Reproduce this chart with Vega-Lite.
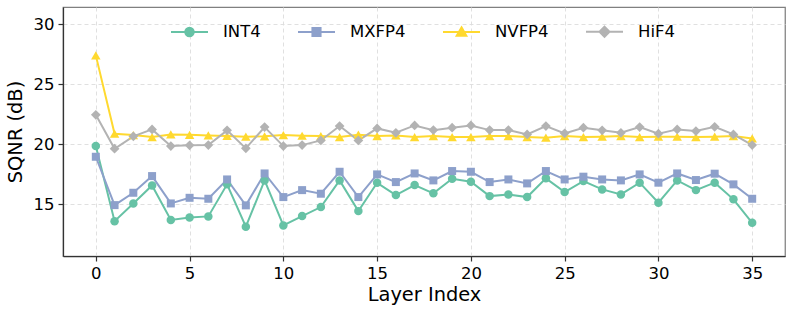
{
  "$schema": "https://vega.github.io/schema/vega-lite/v6.json",
  "width": 722,
  "height": 249,
  "autosize": {"type": "none"},
  "padding": {"left": 63, "top": 7, "right": 8, "bottom": 58},
  "background": "white",
  "config": {
    "font": "DejaVu Sans",
    "view": {"stroke": "#808080", "strokeWidth": 1.25},
    "axis": {
      "labelFont": "DejaVu Sans",
      "titleFont": "DejaVu Sans",
      "labelFontSize": 16.5,
      "titleFontSize": 19.4,
      "labelColor": "black",
      "titleColor": "black",
      "titleFontWeight": "normal",
      "tickSize": 5,
      "tickColor": "#333333",
      "tickWidth": 1.2,
      "labelPadding": 4,
      "domainColor": "#333333",
      "domainWidth": 1.25,
      "gridColor": "#dddddd",
      "gridDash": [4, 3],
      "gridWidth": 0.9
    },
    "legend": {
      "labelFont": "DejaVu Sans",
      "labelFontSize": 16.5,
      "labelColor": "black"
    }
  },
  "data": {
    "values": [
      {"layer": 0, "method": "INT4", "sqnr": 19.86},
      {"layer": 1, "method": "INT4", "sqnr": 13.6},
      {"layer": 2, "method": "INT4", "sqnr": 15.08},
      {"layer": 3, "method": "INT4", "sqnr": 16.58},
      {"layer": 4, "method": "INT4", "sqnr": 13.7},
      {"layer": 5, "method": "INT4", "sqnr": 13.9},
      {"layer": 6, "method": "INT4", "sqnr": 14.0},
      {"layer": 7, "method": "INT4", "sqnr": 16.67},
      {"layer": 8, "method": "INT4", "sqnr": 13.14},
      {"layer": 9, "method": "INT4", "sqnr": 17.0},
      {"layer": 10, "method": "INT4", "sqnr": 13.25},
      {"layer": 11, "method": "INT4", "sqnr": 14.03},
      {"layer": 12, "method": "INT4", "sqnr": 14.78},
      {"layer": 13, "method": "INT4", "sqnr": 17.0},
      {"layer": 14, "method": "INT4", "sqnr": 14.44},
      {"layer": 15, "method": "INT4", "sqnr": 16.8},
      {"layer": 16, "method": "INT4", "sqnr": 15.78},
      {"layer": 17, "method": "INT4", "sqnr": 16.61},
      {"layer": 18, "method": "INT4", "sqnr": 15.92},
      {"layer": 19, "method": "INT4", "sqnr": 17.14},
      {"layer": 20, "method": "INT4", "sqnr": 16.89},
      {"layer": 21, "method": "INT4", "sqnr": 15.69},
      {"layer": 22, "method": "INT4", "sqnr": 15.83},
      {"layer": 23, "method": "INT4", "sqnr": 15.61},
      {"layer": 24, "method": "INT4", "sqnr": 17.17},
      {"layer": 25, "method": "INT4", "sqnr": 16.03},
      {"layer": 26, "method": "INT4", "sqnr": 16.94},
      {"layer": 27, "method": "INT4", "sqnr": 16.25},
      {"layer": 28, "method": "INT4", "sqnr": 15.83},
      {"layer": 29, "method": "INT4", "sqnr": 16.81},
      {"layer": 30, "method": "INT4", "sqnr": 15.14},
      {"layer": 31, "method": "INT4", "sqnr": 17.0},
      {"layer": 32, "method": "INT4", "sqnr": 16.19},
      {"layer": 33, "method": "INT4", "sqnr": 16.81},
      {"layer": 34, "method": "INT4", "sqnr": 15.42},
      {"layer": 35, "method": "INT4", "sqnr": 13.47},
      {"layer": 0, "method": "MXFP4", "sqnr": 18.97},
      {"layer": 1, "method": "MXFP4", "sqnr": 14.94},
      {"layer": 2, "method": "MXFP4", "sqnr": 15.97},
      {"layer": 3, "method": "MXFP4", "sqnr": 17.36},
      {"layer": 4, "method": "MXFP4", "sqnr": 15.08},
      {"layer": 5, "method": "MXFP4", "sqnr": 15.55},
      {"layer": 6, "method": "MXFP4", "sqnr": 15.47},
      {"layer": 7, "method": "MXFP4", "sqnr": 17.08},
      {"layer": 8, "method": "MXFP4", "sqnr": 14.92},
      {"layer": 9, "method": "MXFP4", "sqnr": 17.58},
      {"layer": 10, "method": "MXFP4", "sqnr": 15.61},
      {"layer": 11, "method": "MXFP4", "sqnr": 16.19},
      {"layer": 12, "method": "MXFP4", "sqnr": 15.89},
      {"layer": 13, "method": "MXFP4", "sqnr": 17.72},
      {"layer": 14, "method": "MXFP4", "sqnr": 15.61},
      {"layer": 15, "method": "MXFP4", "sqnr": 17.5},
      {"layer": 16, "method": "MXFP4", "sqnr": 16.86},
      {"layer": 17, "method": "MXFP4", "sqnr": 17.58},
      {"layer": 18, "method": "MXFP4", "sqnr": 17.0},
      {"layer": 19, "method": "MXFP4", "sqnr": 17.78},
      {"layer": 20, "method": "MXFP4", "sqnr": 17.72},
      {"layer": 21, "method": "MXFP4", "sqnr": 16.86},
      {"layer": 22, "method": "MXFP4", "sqnr": 17.08},
      {"layer": 23, "method": "MXFP4", "sqnr": 16.75},
      {"layer": 24, "method": "MXFP4", "sqnr": 17.78},
      {"layer": 25, "method": "MXFP4", "sqnr": 17.08},
      {"layer": 26, "method": "MXFP4", "sqnr": 17.31},
      {"layer": 27, "method": "MXFP4", "sqnr": 17.08},
      {"layer": 28, "method": "MXFP4", "sqnr": 17.0},
      {"layer": 29, "method": "MXFP4", "sqnr": 17.5},
      {"layer": 30, "method": "MXFP4", "sqnr": 16.81},
      {"layer": 31, "method": "MXFP4", "sqnr": 17.58},
      {"layer": 32, "method": "MXFP4", "sqnr": 17.03},
      {"layer": 33, "method": "MXFP4", "sqnr": 17.56},
      {"layer": 34, "method": "MXFP4", "sqnr": 16.67},
      {"layer": 35, "method": "MXFP4", "sqnr": 15.47},
      {"layer": 0, "method": "NVFP4", "sqnr": 27.42},
      {"layer": 1, "method": "NVFP4", "sqnr": 20.89},
      {"layer": 2, "method": "NVFP4", "sqnr": 20.78},
      {"layer": 3, "method": "NVFP4", "sqnr": 20.61},
      {"layer": 4, "method": "NVFP4", "sqnr": 20.83},
      {"layer": 5, "method": "NVFP4", "sqnr": 20.8},
      {"layer": 6, "method": "NVFP4", "sqnr": 20.75},
      {"layer": 7, "method": "NVFP4", "sqnr": 20.7},
      {"layer": 8, "method": "NVFP4", "sqnr": 20.64},
      {"layer": 9, "method": "NVFP4", "sqnr": 20.67},
      {"layer": 10, "method": "NVFP4", "sqnr": 20.78},
      {"layer": 11, "method": "NVFP4", "sqnr": 20.72},
      {"layer": 12, "method": "NVFP4", "sqnr": 20.69},
      {"layer": 13, "method": "NVFP4", "sqnr": 20.61},
      {"layer": 14, "method": "NVFP4", "sqnr": 20.81},
      {"layer": 15, "method": "NVFP4", "sqnr": 20.69},
      {"layer": 16, "method": "NVFP4", "sqnr": 20.75},
      {"layer": 17, "method": "NVFP4", "sqnr": 20.61},
      {"layer": 18, "method": "NVFP4", "sqnr": 20.69},
      {"layer": 19, "method": "NVFP4", "sqnr": 20.61},
      {"layer": 20, "method": "NVFP4", "sqnr": 20.61},
      {"layer": 21, "method": "NVFP4", "sqnr": 20.69},
      {"layer": 22, "method": "NVFP4", "sqnr": 20.69},
      {"layer": 23, "method": "NVFP4", "sqnr": 20.61},
      {"layer": 24, "method": "NVFP4", "sqnr": 20.56},
      {"layer": 25, "method": "NVFP4", "sqnr": 20.69},
      {"layer": 26, "method": "NVFP4", "sqnr": 20.61},
      {"layer": 27, "method": "NVFP4", "sqnr": 20.64},
      {"layer": 28, "method": "NVFP4", "sqnr": 20.69},
      {"layer": 29, "method": "NVFP4", "sqnr": 20.61},
      {"layer": 30, "method": "NVFP4", "sqnr": 20.64},
      {"layer": 31, "method": "NVFP4", "sqnr": 20.64},
      {"layer": 32, "method": "NVFP4", "sqnr": 20.61},
      {"layer": 33, "method": "NVFP4", "sqnr": 20.64},
      {"layer": 34, "method": "NVFP4", "sqnr": 20.69},
      {"layer": 35, "method": "NVFP4", "sqnr": 20.5},
      {"layer": 0, "method": "HiF4", "sqnr": 22.47},
      {"layer": 1, "method": "HiF4", "sqnr": 19.64},
      {"layer": 2, "method": "HiF4", "sqnr": 20.67},
      {"layer": 3, "method": "HiF4", "sqnr": 21.25},
      {"layer": 4, "method": "HiF4", "sqnr": 19.86},
      {"layer": 5, "method": "HiF4", "sqnr": 19.92},
      {"layer": 6, "method": "HiF4", "sqnr": 19.94},
      {"layer": 7, "method": "HiF4", "sqnr": 21.17},
      {"layer": 8, "method": "HiF4", "sqnr": 19.67},
      {"layer": 9, "method": "HiF4", "sqnr": 21.44},
      {"layer": 10, "method": "HiF4", "sqnr": 19.86},
      {"layer": 11, "method": "HiF4", "sqnr": 19.94},
      {"layer": 12, "method": "HiF4", "sqnr": 20.33},
      {"layer": 13, "method": "HiF4", "sqnr": 21.53},
      {"layer": 14, "method": "HiF4", "sqnr": 20.33},
      {"layer": 15, "method": "HiF4", "sqnr": 21.33},
      {"layer": 16, "method": "HiF4", "sqnr": 20.97},
      {"layer": 17, "method": "HiF4", "sqnr": 21.58},
      {"layer": 18, "method": "HiF4", "sqnr": 21.19},
      {"layer": 19, "method": "HiF4", "sqnr": 21.39},
      {"layer": 20, "method": "HiF4", "sqnr": 21.58},
      {"layer": 21, "method": "HiF4", "sqnr": 21.19},
      {"layer": 22, "method": "HiF4", "sqnr": 21.19},
      {"layer": 23, "method": "HiF4", "sqnr": 20.83},
      {"layer": 24, "method": "HiF4", "sqnr": 21.53},
      {"layer": 25, "method": "HiF4", "sqnr": 20.92},
      {"layer": 26, "method": "HiF4", "sqnr": 21.39},
      {"layer": 27, "method": "HiF4", "sqnr": 21.17},
      {"layer": 28, "method": "HiF4", "sqnr": 20.97},
      {"layer": 29, "method": "HiF4", "sqnr": 21.44},
      {"layer": 30, "method": "HiF4", "sqnr": 20.89},
      {"layer": 31, "method": "HiF4", "sqnr": 21.25},
      {"layer": 32, "method": "HiF4", "sqnr": 21.11},
      {"layer": 33, "method": "HiF4", "sqnr": 21.47},
      {"layer": 34, "method": "HiF4", "sqnr": 20.83},
      {"layer": 35, "method": "HiF4", "sqnr": 19.94}
    ]
  },
  "encoding": {
    "x": {
      "field": "layer",
      "type": "quantitative",
      "title": "Layer Index",
      "scale": {"domain": [-1.75, 36.75], "nice": false, "zero": false},
      "axis": {"values": [0, 5, 10, 15, 20, 25, 30, 35], "titlePadding": 4, "labelFlush": false}
    },
    "y": {
      "field": "sqnr",
      "type": "quantitative",
      "title": "SQNR (dB)",
      "scale": {"domain": [10.7, 31.45], "nice": false, "zero": false},
      "axis": {"values": [15, 20, 25, 30], "titlePadding": 8, "labelFlush": false}
    },
    "color": {
      "field": "method",
      "type": "nominal",
      "scale": {
        "domain": ["INT4", "MXFP4", "NVFP4", "HiF4"],
        "range": ["#66c2a5", "#8da0cb", "#ffd92f", "#b3b3b3"]
      },
      "legend": {
        "title": null,
        "orient": "none",
        "direction": "horizontal",
        "legendX": 107,
        "legendY": 5,
        "symbolSize": 1369,
        "symbolStrokeWidth": 2,
        "labelOffset": 14,
        "columnPadding": 33,
        "labelFontSize": 16.5,
        "encode": {
          "symbols": {
            "update": {
              "shape": {"signal": "datum.value === 'INT4' ? 'M-1,0H1M-0.23,0A0.23,0.23,0,1,0,0.23,0A0.23,0.23,0,1,0,-0.23,0Z' : datum.value === 'MXFP4' ? 'M-1,0H1M-0.22,-0.22H0.22V0.22H-0.22Z' : datum.value === 'NVFP4' ? 'M-1,0H1M0,-0.25L0.26,0.2L-0.26,0.2Z' : 'M-1,0H1M0,-0.27L0.27,0L0,0.27L-0.27,0Z'"},
              "size": {"value": 1369},
              "fill": {"signal": "scale('color', datum.value)"},
              "stroke": {"signal": "scale('color', datum.value)"},
              "strokeWidth": {"value": 2},
              "opacity": {"value": 1},
              "fillOpacity": {"value": 1},
              "strokeOpacity": {"value": 1}
            }
          }
        }
      }
    }
  },
  "layer": [
    {
      "mark": {"type": "line", "strokeWidth": 2},
      "encoding": {"detail": {"field": "method"}}
    },
    {
      "transform": [{"filter": "datum.method === 'INT4'"}],
      "mark": {"type": "point", "shape": "circle", "size": 72, "filled": true, "opacity": 1, "strokeWidth": 0}
    },
    {
      "transform": [{"filter": "datum.method === 'MXFP4'"}],
      "mark": {"type": "point", "shape": "square", "size": 64, "filled": true, "opacity": 1, "strokeWidth": 0}
    },
    {
      "transform": [{"filter": "datum.method === 'NVFP4'"}],
      "mark": {"type": "point", "shape": "triangle-up", "size": 90, "filled": true, "opacity": 1, "strokeWidth": 0}
    },
    {
      "transform": [{"filter": "datum.method === 'HiF4'"}],
      "mark": {"type": "point", "shape": "diamond", "size": 95, "filled": true, "opacity": 1, "strokeWidth": 0}
    }
  ]
}
